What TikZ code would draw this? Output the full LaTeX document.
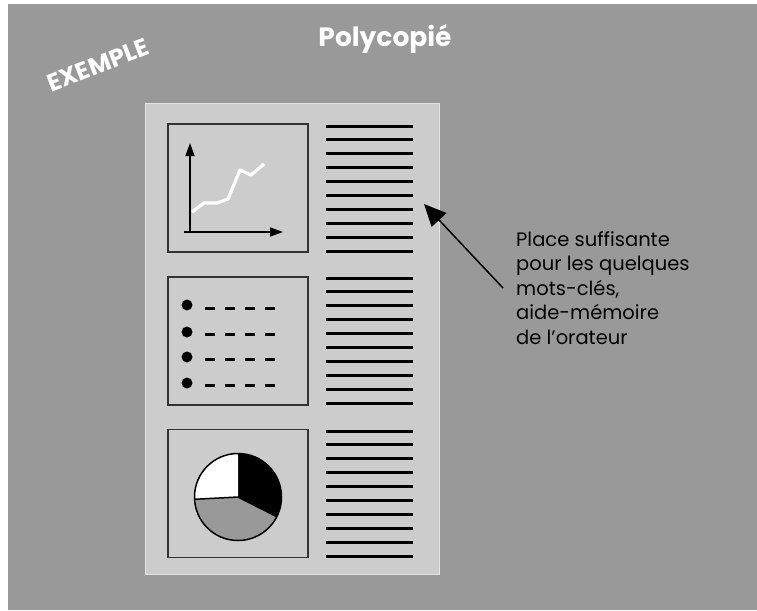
\documentclass[tikz,border=0pt]{standalone}
\usepackage{fontspec}
\setmainfont{Poppins}
\usetikzlibrary{arrows.meta}
\definecolor{bg}{HTML}{999999}
\definecolor{pagefill}{HTML}{CCCCCC}
\definecolor{pageedge}{HTML}{E4E4E4}
\definecolor{boxedge}{HTML}{333333}
\tikzset{
  pagebox/.style={fill=pagefill, draw=pageedge, line width=1pt, minimum width=294pt, minimum height=471pt, inner sep=0pt},
  figbox/.style={draw=boxedge, line width=1.2pt, minimum width=140pt, minimum height=128pt, inner sep=0pt},
  textline/.style={line width=3pt, black},
  axis/.style={line width=1.3pt, -{Triangle[length=13pt,width=9pt]}},
  bulletdot/.style={circle, fill=black, minimum size=11pt, inner sep=0pt},
  dashline/.style={line width=3pt, dash pattern=on 10pt off 10pt},
  notetext/.style={align=left, font=\fontsize{19.5}{24.5}\selectfont, inner sep=0pt, text=black},
  pointer/.style={line width=1.5pt, -{Triangle[length=22pt,width=20pt]}},
}
\begin{document}
\begin{tikzpicture}[x=1pt,y=-1pt]
\useasboundingbox (0,0) rectangle (757,610);
\fill[white] (0,0) rectangle (757,610);
\fill[bg] (8,4) rectangle (757,610);
% title and stamp
\node[text=white, font=\fontsize{26.5}{30}\selectfont\bfseries] (title) at (385,39) {Polycopié};
\node[text=white, font=\fontsize{24.5}{28}\selectfont\bfseries, rotate=21] (stamp) at (98,65) {EXEMPLE};
% page
\node[pagebox] (page) at (292,338.5) {};
% figure boxes
\node[figbox] (chart) at (238,188) {};
\node[figbox] (list) at (238,341) {};
\node[figbox] (pie) at (238,493.5) {};
% text lines
\foreach \y in {126,278,431}{
  \foreach \k in {0,...,9}{
    \draw[textline] (326,\y+13.9*\k) -- (413,\y+13.9*\k);
  }
}
% chart
\draw[axis] (190,233) -- (190,143);
\draw[axis] (184,232) -- (283,232);
\draw[white, line width=3.2pt, line join=round] (192,212) -- (204,203) -- (217,203) -- (228,199) -- (240,170) -- (251,175) -- (264,164);
% bullets
\foreach \yb/\yd in {305/308,332/334,357/359,383/385}{
  \node[bulletdot] at (187,\yb) {};
  \draw[dashline] (205,\yd) -- (277,\yd);
}
% pie
\begin{scope}[shift={(238,497)}, y=1pt]
  \def\r{43.5}
  \fill[black] (0,0) -- (-27:\r) arc[start angle=-27, end angle=90, radius=\r] -- cycle;
  \fill[bg] (0,0) -- (183:\r) arc[start angle=183, end angle=333, radius=\r] -- cycle;
  \fill[white] (0,0) -- (90:\r) arc[start angle=90, end angle=183, radius=\r] -- cycle;
  \draw[line width=1.5pt] (183:\r) -- (0,0) -- (-27:\r);
  \draw[line width=1.5pt] (0,0) circle[radius=\r];
\end{scope}
% note
\node[notetext, anchor=north west] (note) at (516,231) {Place suffisante\\pour les quelques\\mots-clés,\\aide-mémoire\\de l’orateur};
\coordinate (tail) at (503,288);
\coordinate (tip) at (424,204);
\draw[pointer] (tail) -- (tip);
\end{tikzpicture}
\end{document}
